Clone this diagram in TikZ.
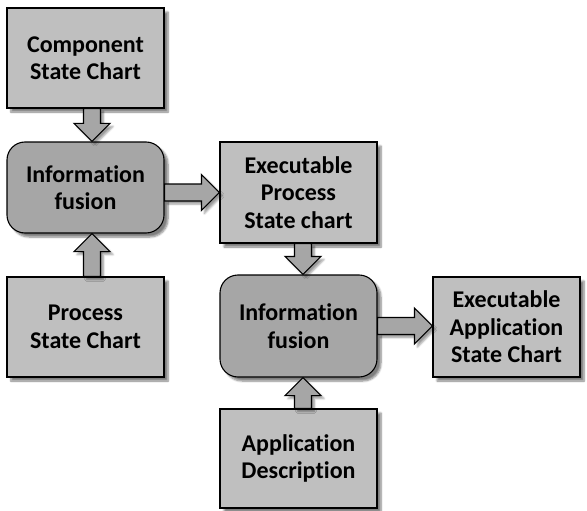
\documentclass[tikz,border=0pt]{standalone}
\usepackage{fontspec}
\setmainfont[RawFeature={-liga,-clig}]{Carlito}
\usetikzlibrary{calc,shadows.blur}

\definecolor{boxfill}{HTML}{BFBFBF}
\definecolor{fusefill}{HTML}{A6A6A6}
\definecolor{arrowfill}{HTML}{A6A6A6}

\tikzset{
  chartbox/.style={draw=black, line width=1.1pt, fill=boxfill,
    minimum width=157pt, inner sep=0pt, align=center,
    font=\fontsize{24}{27.5}\selectfont\bfseries,
    blur shadow={shadow xshift=4pt, shadow yshift=-4pt, shadow blur steps=6, shadow opacity=50}},
  fusebox/.style={chartbox, fill=fusefill, rounded corners=18pt},
  % block arrow drawn between two points: shaft half width 8.5, head half width 18, head length 18
  fatarrow/.style={draw=black, line width=1.1pt, fill=arrowfill, line join=miter,
    blur shadow={shadow xshift=3pt, shadow yshift=-3pt, shadow blur steps=5, shadow opacity=40},
    to path={let \p1=(\tikztostart), \p2=(\tikztotarget),
      \n1={atan2(\y2-\y1,\x2-\x1)}, \n2={veclen(\x2-\x1,\y2-\y1)}, \n3={\n2-18pt} in
      ($(\p1)+(\n1+90:8.5pt)$) -- ($(\p1)+(\n1:\n3)+(\n1+90:8.5pt)$)
      -- ($(\p1)+(\n1:\n3)+(\n1+90:18pt)$) -- (\p2)
      -- ($(\p1)+(\n1:\n3)+(\n1-90:18pt)$) -- ($(\p1)+(\n1:\n3)+(\n1-90:8.5pt)$)
      -- ($(\p1)+(\n1-90:8.5pt)$) -- cycle}}
}

\begin{document}
\begin{tikzpicture}[x=1pt, y=-1pt]
\useasboundingbox (0,0) rectangle (587,511);

\node[chartbox, minimum height=100pt] (comp)    at (85.5,58)    {Component\\State Chart};
\node[fusebox,  minimum height=91pt]  (fus1)    at (85.5,187.5) {Information\\fusion};
\node[chartbox, minimum height=100pt] (proc)    at (85.5,327)   {Process\\State Chart};
\node[chartbox, minimum height=101pt] (exproc)  at (298.5,192.5){Executable\\Process\\State chart};
\node[fusebox,  minimum height=102pt] (fus2)    at (298.5,326)  {Information\\fusion};
\node[chartbox, minimum height=100pt, minimum width=147pt] (exapp) at (506.5,327) {Executable\\Application\\State Chart};
\node[chartbox, minimum height=99pt]  (appdesc) at (298.5,458.5){Application\\Description};

\path[fatarrow] ([xshift=6.5pt]comp.south) to ([xshift=6.5pt]fus1.north);
\path[fatarrow] ([xshift=6.5pt]proc.north) to ([xshift=6.5pt]fus1.south);
\path[fatarrow] (fus1.east |- exproc.west) to (exproc.west);
\path[fatarrow] ([xshift=4.5pt]exproc.south) to ([xshift=4.5pt]fus2.north);
\path[fatarrow] ([xshift=4.5pt]appdesc.north) to ([xshift=4.5pt]fus2.south);
\path[fatarrow] (fus2.east) to (exapp.west |- fus2.east);
\end{tikzpicture}
\end{document}
